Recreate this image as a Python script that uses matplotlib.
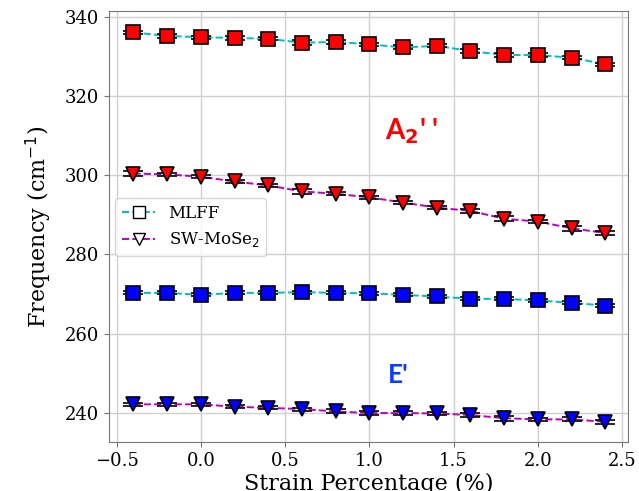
import matplotlib
matplotlib.use("Agg")
import matplotlib.pyplot as plt
from matplotlib.lines import Line2D
import numpy as np

strain = [-0.4, -0.2, 0.0, 0.2, 0.4, 0.6, 0.8, 1.0, 1.2, 1.4, 1.6, 1.8, 2.0, 2.2, 2.4]

# A2'' mode
a2_mlff = [336.0, 335.1, 334.8, 334.6, 334.4, 333.4, 333.6, 333.0, 332.2, 332.6, 331.3, 330.3, 330.3, 329.6, 328.0]
a2_sw = [300.4, 300.2, 299.6, 298.4, 297.4, 295.9, 295.3, 294.4, 293.1, 291.8, 291.0, 289.0, 288.3, 286.6, 285.4]

# E' mode
e_mlff = [270.3, 270.3, 269.8, 270.3, 270.3, 270.5, 270.3, 270.2, 269.8, 269.4, 268.8, 268.8, 268.4, 267.8, 267.1]
e_sw = [242.2, 242.2, 242.2, 241.6, 241.3, 241.0, 240.4, 240.0, 240.0, 239.9, 239.5, 238.7, 238.4, 238.4, 237.8]

# uncertainties
a2_mlff_err = [0.4, 0.5, 0.4, 0.4, 0.4, 0.6, 0.4, 0.4, 0.5, 0.4, 0.4, 0.5, 0.4, 0.4, 0.4]
a2_sw_err = [0.6, 0.4, 0.4, 0.4, 0.4, 0.6, 0.4, 0.4, 0.4, 0.4, 0.5, 0.6, 0.4, 0.6, 0.4]
e_mlff_err = [0.4, 0.4, 0.4, 0.4, 0.4, 0.4, 0.4, 0.4, 0.4, 0.4, 0.4, 0.4, 0.4, 0.4, 0.4]
e_sw_err = [0.4, 0.4, 0.4, 0.4, 0.4, 0.4, 0.5, 0.4, 0.4, 0.4, 0.4, 0.6, 0.4, 0.5, 0.5]

fig = plt.figure(figsize=(6.39, 4.91), dpi=100)
ax = fig.add_axes([0.1706, 0.0998, 0.8124, 0.8778])

err_kw = dict(ecolor="black", elinewidth=1.6, capsize=7.5, capthick=1.6,
              markeredgecolor="black", markeredgewidth=1.2, markersize=10, lw=1.4)

ax.errorbar(strain, a2_mlff, yerr=a2_mlff_err, fmt="s", color="red", **err_kw)
ax.plot(strain, a2_mlff, "--", color="c", lw=1.4, zorder=1)
ax.errorbar(strain, a2_sw, yerr=a2_sw_err, fmt="v", color="red", **err_kw)
ax.plot(strain, a2_sw, "--", color="m", lw=1.4, zorder=1)
ax.errorbar(strain, e_mlff, yerr=e_mlff_err, fmt="s", color="blue", **err_kw)
ax.plot(strain, e_mlff, "--", color="c", lw=1.4, zorder=1)
ax.errorbar(strain, e_sw, yerr=e_sw_err, fmt="v", color="blue", **err_kw)
ax.plot(strain, e_sw, "--", color="m", lw=1.4, zorder=1)

ax.text(1.25, 311.0, "A$_\\mathbf{2}$' '", color="red", fontsize=20, fontweight="bold",
        family="Lato", ha="center", va="center")
ax.text(1.17, 249.5, "E'", color="#0a3cff", fontsize=19, fontweight="bold",
        family="Lato", ha="center", va="center")

ax.set_xlim(-0.545, 2.536)
ax.set_ylim(232.7, 341.4)
ax.set_yticks([240, 260, 280, 300, 320, 340])
ax.grid(True, color="#d0d0d0", lw=1)
ax.set_axisbelow(True)
for s in ax.spines.values():
    s.set_color("#777777")
ax.tick_params(labelsize=13, color="#777777")
for lab in ax.get_xticklabels() + ax.get_yticklabels():
    lab.set_family("DejaVu Serif")

ax.set_xlabel("Strain Percentage (%)", fontsize=16, family="DejaVu Serif", labelpad=2)
ax.set_ylabel("Frequency (cm$^{-1}$)", fontsize=16, family="DejaVu Serif", labelpad=8)

handles = [
    Line2D([], [], color="c", ls="--", marker="s", markerfacecolor="white",
           markeredgecolor="black", markersize=9, lw=1.4),
    Line2D([], [], color="m", ls="--", marker="v", markerfacecolor="white",
           markeredgecolor="black", markersize=9, lw=1.4),
]
ax.legend(handles, ["MLFF", "SW-MoSe$_2$"], loc="upper left", bbox_to_anchor=(0.012, 0.565),
          prop={"family": "DejaVu Serif", "size": 12}, handlelength=2.0, borderaxespad=0)

fig.savefig("out.png", dpi=100)
